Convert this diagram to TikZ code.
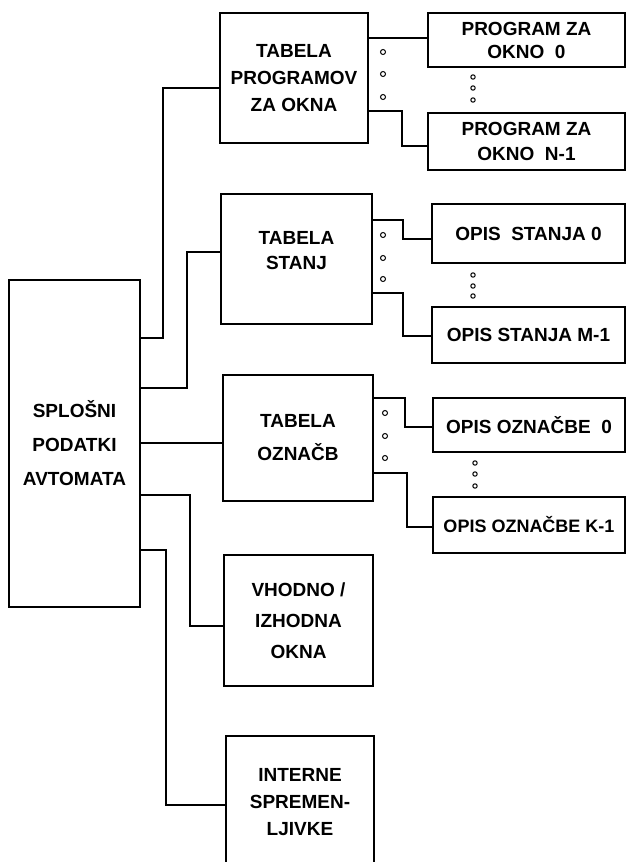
\documentclass[tikz,border=0pt]{standalone}
\usepackage{fontspec}
\setmainfont{Liberation Sans}

\begin{document}
\begin{tikzpicture}[
    x=1pt, y=-1pt,
    box/.style n args={3}{draw, line width=1.5pt, inner sep=0pt, minimum width=#1, minimum height=#2, align=center, font=\bfseries\fontsize{19}{#3}\selectfont},
    wire/.style={line width=1.3pt},
    dot/.style={line width=1pt}
]
    \useasboundingbox (0,0) rectangle (627,862);
    \clip (0,0) rectangle (627,862);

    % Nodes
    \node [box={131pt}{327pt}{34pt}] (main) at (74.5,443.5) {SPLOŠNI\\PODATKI\\AVTOMATA};
    \node [box={148pt}{130pt}{27pt}] (tprog) at (294,78) {TABELA\\PROGRAMOV\\ZA OKNA};
    \node [box={151pt}{130pt}{25pt}] (tstanj) at (296.5,259) {TABELA\\STANJ\\[-8pt]\mbox{}};
    \node [box={150pt}{126pt}{33pt}] (toznacb) at (298,438) {TABELA\\OZNAČB};
    \node [box={149pt}{131pt}{31pt}] (vhodno) at (298.5,620.5) {VHODNO /\\IZHODNA\\OKNA};
    \node [box={148pt}{132pt}{27pt}] (interne) at (300,802) {INTERNE\\SPREMEN-\\LJIVKE};

    \node [box={197pt}{54pt}{23pt}] (prog0) at (526.5,40) {PROGRAM ZA\\OKNO\ \ 0};
    \node [box={197pt}{57pt}{25pt}] (progN) at (526.5,141.5) {PROGRAM ZA\\OKNO\ \ N-1};
    \node [box={193pt}{59pt}{20pt}] (stanj0) at (528.5,233.5) {OPIS\ \ STANJA 0};
    \node [box={193pt}{56pt}{20pt}] (stanjM) at (528.5,335) {OPIS STANJA M-1};
    \node [box={192pt}{54pt}{20pt}] (ozn0) at (529,425) {OPIS OZNAČBE\ \ 0};
    \node [box={192pt}{56pt}{20pt}, font=\bfseries\fontsize{18}{20}\selectfont] (oznK) at (529,525) {OPIS OZNAČBE K-1};

    % Paths
    \draw [wire] (main.east |- 0,338) -| (163,88) -- (tprog.west |- 0,88);
    \draw [wire] (main.east |- 0,388) -| (187,252) -- (tstanj.west |- 0,252);
    \draw [wire] (main.east |- 0,443) -- (toznacb.west |- 0,443);
    \draw [wire] (main.east |- 0,495) -| (190,626) -- (vhodno.west |- 0,626);
    \draw [wire] (main.east |- 0,550) -| (166,805) -- (interne.west |- 0,805);

    \draw [wire] (tprog.east |- 0,38) -- (prog0.west |- 0,38);
    \draw [wire] (tprog.east |- 0,111) -| (402,146) -- (progN.west |- 0,146);
    \draw [wire] (tstanj.east |- 0,220) -| (403,239) -- (stanj0.west |- 0,239);
    \draw [wire] (tstanj.east |- 0,293) -| (403,336) -- (stanjM.west |- 0,336);
    \draw [wire] (toznacb.east |- 0,398) -| (405,427) -- (ozn0.west |- 0,427);
    \draw [wire] (toznacb.east |- 0,473) -| (407,527) -- (oznK.west |- 0,527);

    % Dots
    \foreach \y in {52,74,97} \draw [dot] (383,\y) circle [radius=2.5pt];
    \foreach \y in {235,258,279} \draw [dot] (383,\y) circle [radius=2.5pt];
    \foreach \y in {413,436,458} \draw [dot] (385,\y) circle [radius=2.5pt];
    \foreach \y in {77,88,100} \draw [dot] (473,\y) circle [radius=2.2pt];
    \foreach \y in {275,286,296} \draw [dot] (473,\y) circle [radius=2.2pt];
    \foreach \y in {463,474,486} \draw [dot] (475,\y) circle [radius=2.2pt];
\end{tikzpicture}
\end{document}
